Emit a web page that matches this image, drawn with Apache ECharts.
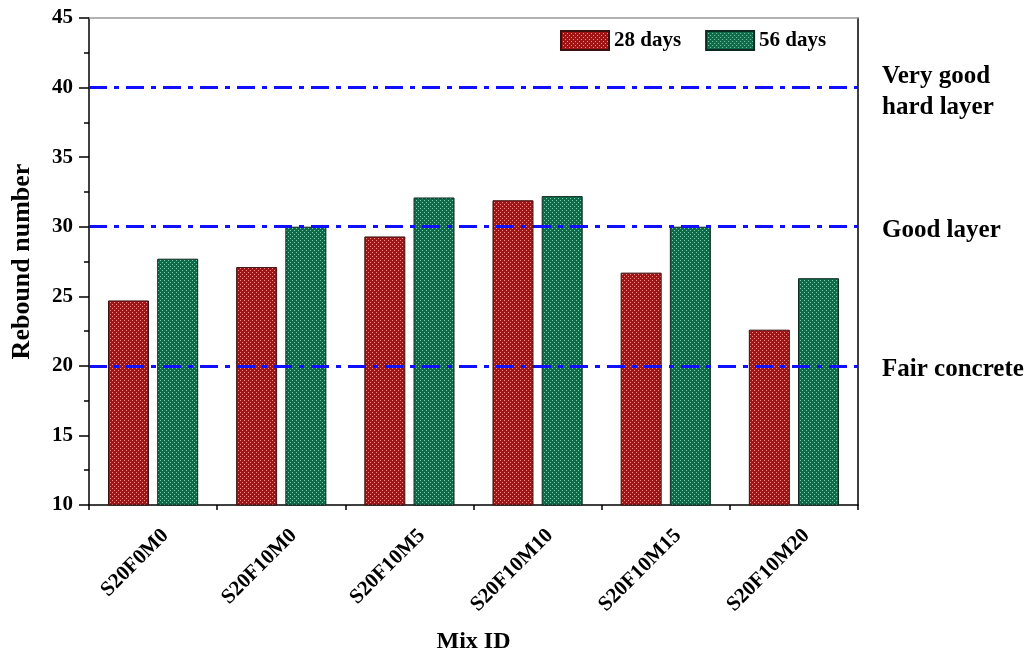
<!DOCTYPE html>
<html>
<head>
<meta charset="utf-8">
<script src="https://cdn.jsdelivr.net/npm/echarts@6/dist/echarts.min.js"></script>
<style>
  html, body { margin: 0; padding: 0; background: #fff; }
  #chart { width: 1029px; height: 655px; }
</style>
</head>
<body>
<div id="chart"></div>
<script>
// Mix designs and rebound hammer readings
const mixIds = ['S20F0M0', 'S20F10M0', 'S20F10M5', 'S20F10M10', 'S20F10M15', 'S20F10M20'];
const days28 = [24.7, 27.1, 29.3, 31.9, 26.7, 22.6];
const days56 = [27.7, 30.0, 32.1, 32.2, 30.0, 26.3];
const seriesNames = ['28 days', '56 days'];

// Quality classes (rebound number thresholds)
const classLevels = [20, 30, 40];
const classNames = ['Fair concrete', 'Good layer', 'Very good\nhard layer'];

const FONT = '"Liberation Serif", "Times New Roman", serif';

// Small dotted texture used as bar fill
function dottedFill(base, dot) {
  const c = document.createElement('canvas');
  c.width = 4; c.height = 4;
  const g = c.getContext('2d');
  g.fillStyle = base;
  g.fillRect(0, 0, 4, 4);
  g.fillStyle = dot;
  g.fillRect(0, 0, 1, 1);
  g.fillRect(2, 2, 1, 1);
  return { image: c, repeat: 'repeat' };
}

const redFill = dottedFill('#a01616', '#ec8c8c');
const greenFill = dottedFill('#0f6a4a', '#7ccbab');

const chart = echarts.init(document.getElementById('chart'));

const option = {
  backgroundColor: '#fff',
  animation: false,
  grid: { left: 89, right: 171, top: 18, bottom: 150, containLabel: false, outerBoundsMode: 'none' },
  legend: {
    data: seriesNames,
    left: 560,
    top: 30,
    padding: 0,
    icon: 'rect',
    itemWidth: 48,
    itemHeight: 19,
    itemGap: 24,
    textStyle: { fontFamily: FONT, fontWeight: 'bold', fontSize: 21, color: '#000' }
  },
  xAxis: [
    {
      type: 'category',
      data: mixIds,
      position: 'bottom',
      name: 'Mix ID',
      nameLocation: 'middle',
      nameGap: 125,
      nameTextStyle: { fontFamily: FONT, fontWeight: 'bold', fontSize: 24, color: '#000' },
      axisLine: { lineStyle: { color: '#000', width: 1.5 } },
      axisTick: { alignWithLabel: true, length: 8, lineStyle: { color: '#000', width: 1.5 } },
      axisLabel: {
        rotate: 45,
        margin: 15,
        verticalAlign: 'top',
        padding: [7, 0, 0, 0],
        fontFamily: FONT, fontWeight: 'bold', fontSize: 21, color: '#000'
      }
    },
    {
      // boundary ticks between groups
      type: 'category',
      data: mixIds,
      position: 'bottom',
      axisLine: { show: false },
      axisTick: { show: true, length: 5, lineStyle: { color: '#000', width: 1.5 } },
      axisLabel: { show: false }
    },
    {
      // top frame
      type: 'category',
      data: mixIds,
      position: 'top',
      axisLine: { lineStyle: { color: '#999', width: 1.5 } },
      axisTick: { show: false },
      axisLabel: { show: false }
    }
  ],
  yAxis: [
    {
      type: 'value',
      min: 10,
      max: 45,
      interval: 5,
      name: 'Rebound number',
      nameLocation: 'middle',
      nameGap: 54,
      nameTextStyle: { fontFamily: FONT, fontWeight: 'bold', fontSize: 26, color: '#000' },
      axisLine: { show: true, lineStyle: { color: '#000', width: 1.5 } },
      axisTick: { show: true, length: 10, lineStyle: { color: '#000', width: 1.5 } },
      minorTick: { show: true, splitNumber: 2, length: 5, lineStyle: { color: '#000', width: 1.5 } },
      splitLine: { show: false },
      axisLabel: { margin: 16, fontFamily: FONT, fontWeight: 'bold', fontSize: 21, color: '#000' }
    },
    {
      // right frame
      type: 'value',
      min: 10,
      max: 45,
      position: 'right',
      axisLine: { show: true, lineStyle: { color: '#000', width: 1.5 } },
      axisTick: { show: false },
      axisLabel: { show: false },
      splitLine: { show: false }
    }
  ],
  series: [
    {
      name: seriesNames[0],
      type: 'bar',
      data: days28,
      barWidth: 41,
      barGap: '20%',
      itemStyle: { color: redFill, borderColor: '#3a1010', borderWidth: 1 },
      markLine: {
        silent: true,
        symbol: 'none',
        lineStyle: { color: '#1010ff', width: 3, type: [18, 7, 5, 7] },
        label: {
          show: true,
          position: 'end',
          distance: 24,
          offset: [0, 4],
          formatter: p => p.name,
          fontFamily: FONT, fontWeight: 'bold', fontSize: 25, color: '#000',
          lineHeight: 31, align: 'left'
        },
        data: classLevels.map((v, i) => ({ yAxis: v, name: classNames[i] }))
      }
    },
    {
      name: seriesNames[1],
      type: 'bar',
      data: days56,
      barWidth: 41,
      barGap: '20%',
      itemStyle: { color: greenFill, borderColor: '#0e2a20', borderWidth: 1 }
    }
  ]
};

chart.setOption(option);
</script>
</body>
</html>
